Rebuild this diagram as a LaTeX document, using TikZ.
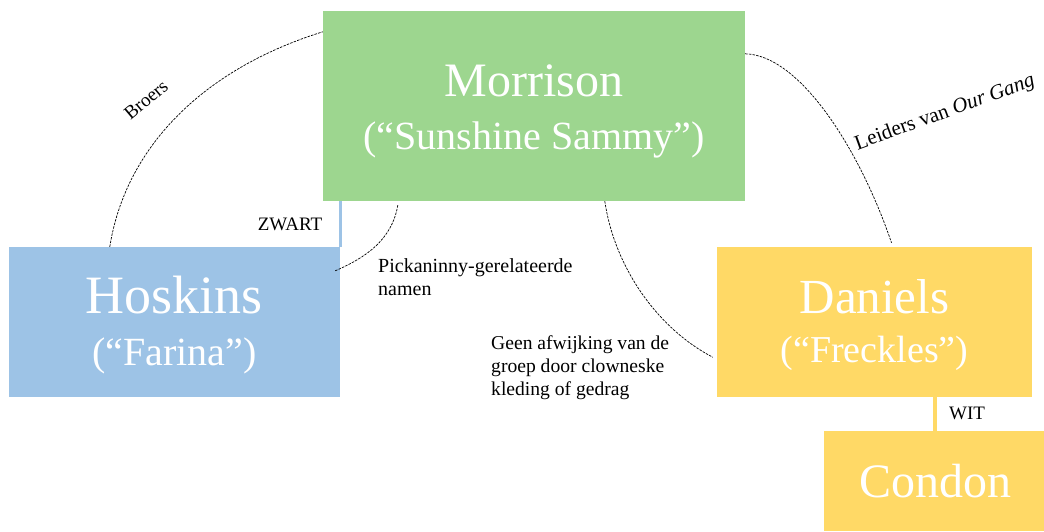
\documentclass[tikz,border=0pt]{standalone}
\usepackage{fontspec}
\setmainfont{Liberation Serif}
\definecolor{mgreen}{HTML}{9DD68F}
\definecolor{mblue}{HTML}{9DC3E6}
\definecolor{myellow}{HTML}{FFD966}
\begin{document}
\begin{tikzpicture}[x=1pt,y=-1pt,
  box/.style={fill=#1,text=white,align=center,inner sep=0pt},
  link/.style={dash pattern=on 2.5pt off 1.2pt,line width=0.7pt},
  note/.style={font=\fontsize{19}{23}\selectfont,inner sep=0pt}]
  \useasboundingbox (0,0) rectangle (1044,531);
  \clip (0,0) rectangle (1044,531);
  \node[box=mgreen,minimum width=422pt,minimum height=190pt,font=\fontsize{40}{53}\selectfont] (morrison) at (534,106) {{\fontsize{48}{53}\selectfont\rule{0pt}{43pt}Morrison}\\(“Sunshine Sammy”)};
  \node[box=mblue,minimum width=331pt,minimum height=150pt,font=\fontsize{40}{52}\selectfont] (hoskins) at (174.5,322) {{\fontsize{54}{52}\selectfont\rule{0pt}{44pt}Hoskins}\\(“Farina”)};
  \node[box=myellow,minimum width=315pt,minimum height=150pt,font=\fontsize{38}{49}\selectfont] (daniels) at (874.5,322) {{\fontsize{49}{49}\selectfont\rule{0pt}{41pt}Daniels}\\(“Freckles”)};
  \node[box=myellow,minimum width=222pt,minimum height=100pt,font=\fontsize{48}{53}\selectfont] (condon) at (935,481) {Condon};
  \draw[mblue,line width=3pt] (hoskins.north east) -- (hoskins.north east |- morrison.south);
  \draw[myellow,line width=4pt] (daniels.south -| condon.north) -- (condon.north);
  \node[note] (zwart) at (290,224) {ZWART};
  \node[note] (wit) at (967,413) {WIT};
  \node[note,rotate=40] (broers) at (146,100) {Broers};
  \node[note,rotate=20,font=\fontsize{21}{25}\selectfont] (leiders) at (945,113) {Leiders van \textit{Our Gang}};
  \node[note,anchor=north west,align=left,font=\fontsize{20}{23}\selectfont] (pick) at (378,258) {Pickaninny-gerelateerde\\namen};
  \node[note,anchor=north west,align=left,font=\fontsize{19.6}{23}\selectfont] (geen) at (491,335) {Geen afwijking van de\\groep door clowneske\\kleding of gedrag};
  \draw[link] ([xshift=101pt]hoskins.north west) .. controls (125,150) and (200,70) .. ([yshift=-21pt]morrison.north west);
  \draw[link] ([xshift=75pt,yshift=-4pt]morrison.south west) .. controls (392,240) and (365,258) .. ([xshift=-5pt,yshift=-24pt]hoskins.north east);
  \draw[link] ([xshift=282pt]morrison.south west) .. controls (615,270) and (660,330) .. ([xshift=-4pt,yshift=40pt]daniels.south west);
  \draw[link] ([yshift=-43pt]morrison.north east) .. controls (800,55) and (860,150) .. ([xshift=17pt,yshift=4pt]daniels.north);
\end{tikzpicture}
\end{document}
